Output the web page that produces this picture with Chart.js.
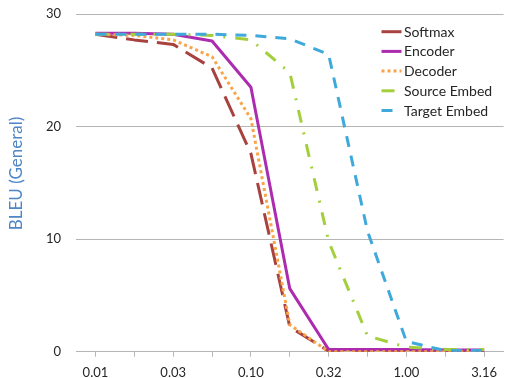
<!DOCTYPE html>
<html>
<head>
<meta charset="utf-8">
<title>BLEU (General)</title>
<script src="https://cdn.jsdelivr.net/npm/chart.js@4/dist/chart.umd.min.js"></script>
<style>
  html, body { margin: 0; padding: 0; background: #ffffff; }
  #wrap { position: relative; width: 505px; height: 378px; }
</style>
</head>
<body>
<div id="wrap"><canvas id="chart"></canvas></div>
<script>
// Noise levels on the x axis (half-decade labels, quarter-decade ticks)
const noiseLevels = [0.01, 0.0178, 0.0316, 0.0562, 0.1, 0.178, 0.316, 0.562, 1.0, 1.78, 3.16];
const xTickLabels = noiseLevels.map((v, i) => (i % 2 === 0 ? v.toFixed(2) : ''));
const yTicks = [0, 10, 20, 30];

// BLEU scores per perturbed component
const softmax     = [28.2, 27.7, 27.3, 25.2, 17.6, 2.2, 0.05, 0.05, 0.05, 0.05, 0.05];
const encoder     = [28.3, 28.3, 28.2, 27.6, 23.5, 5.6, 0.2, 0.2, 0.2, 0.15, 0.15];
const decoder     = [28.2, 28.1, 27.7, 26.2, 20.7, 2.4, 0.0, 0.0, 0.0, 0.0, 0.0];
const sourceEmbed = [28.2, 28.2, 28.2, 28.1, 27.7, 24.8, 9.8, 1.4, 0.4, 0.2, 0.2];
const targetEmbed = [28.2, 28.2, 28.2, 28.2, 28.1, 27.8, 26.4, 10.7, 0.9, 0.1, 0.1];

const seriesNames = ['Softmax', 'Encoder', 'Decoder', 'Source Embed', 'Target Embed'];
const seriesValues = [softmax, encoder, decoder, sourceEmbed, targetEmbed];
const seriesColors = ['#A8423E', '#AD2BAF', '#F9A448', '#A3CF3C', '#3FA9DB'];
const seriesDashes = [[22, 9], [], [3, 3], [13, 10, 2, 10], [11, 9]];

const FONT = 'Lato, "Open Sans", sans-serif';
const GRID = '#b5b5b5';

const datasets = seriesNames.map((name, i) => ({
  label: name,
  data: seriesValues[i],
  borderColor: seriesColors[i],
  backgroundColor: seriesColors[i],
  borderWidth: 3,
  borderDash: seriesDashes[i],
  borderCapStyle: 'butt',
  borderJoinStyle: 'round',
  pointRadius: 0,
  pointHoverRadius: 0,
  tension: 0,
  fill: false,
  order: seriesNames.length - i
}));

// Legend drawn inside the plot, top right
const insideLegend = {
  id: 'insideLegend',
  afterDraw(chart) {
    const ctx = chart.ctx;
    const x0 = 381.5, sampleW = 20, textX = 404, y0 = 31.7, rowH = 19.7;
    ctx.save();
    seriesNames.forEach((name, i) => {
      const y = y0 + i * rowH;
      ctx.beginPath();
      ctx.setLineDash(seriesDashes[i]);
      ctx.lineDashOffset = 0;
      ctx.lineWidth = 3;
      ctx.lineCap = 'butt';
      ctx.strokeStyle = seriesColors[i];
      ctx.moveTo(x0, y);
      ctx.lineTo(x0 + sampleW, y);
      ctx.stroke();
      ctx.setLineDash([]);
      ctx.fillStyle = '#262626';
      ctx.font = '14px ' + FONT;
      ctx.textAlign = 'left';
      ctx.textBaseline = 'middle';
      ctx.fillText(name, textX, y + 0.5);
    });
    ctx.restore();
  }
};

// Vertical axis title
const yTitle = {
  id: 'yTitle',
  afterDraw(chart) {
    const ctx = chart.ctx;
    ctx.save();
    ctx.translate(17, 173.5);
    ctx.rotate(-Math.PI / 2);
    ctx.fillStyle = '#4F86C6';
    ctx.font = '17px ' + FONT;
    ctx.textAlign = 'center';
    ctx.textBaseline = 'middle';
    ctx.fillText('BLEU (General)', 0, 0);
    ctx.restore();
  }
};

new Chart(document.getElementById('chart'), {
  type: 'line',
  data: { labels: xTickLabels, datasets },
  options: {
    responsive: true,
    maintainAspectRatio: false,
    devicePixelRatio: 1,
    animation: false,
    layout: { padding: { top: 14, right: 0, bottom: 0, left: 0 } },
    plugins: {
      legend: { display: false },
      tooltip: { enabled: false },
      title: { display: false }
    },
    scales: {
      x: {
        type: 'category',
        offset: true,
        afterFit(scale) { scale.height = 26.3; },
        border: { display: true, color: GRID, width: 1 },
        grid: {
          display: true,
          drawOnChartArea: false,
          drawTicks: true,
          tickLength: 5,
          color: GRID,
          offset: false
        },
        ticks: {
          autoSkip: false,
          maxRotation: 0,
          minRotation: 0,
          padding: 8,
          color: '#262626',
          font: { family: FONT, size: 13 },
          callback(value, index) { return xTickLabels[index]; }
        }
      },
      y: {
        min: yTicks[0],
        max: yTicks[yTicks.length - 1],
        afterFit(scale) { scale.width = 76; },
        afterBuildTicks(scale) { scale.ticks = yTicks.map(v => ({ value: v })); },
        border: { display: false },
        grid: {
          color: GRID,
          lineWidth: 1,
          drawTicks: true,
          tickLength: 15,
          tickColor: 'rgba(0,0,0,0)'
        },
        ticks: {
          padding: 0,
          color: '#262626',
          font: { family: FONT, size: 13 }
        },
        title: { display: false }
      }
    }
  },
  plugins: [insideLegend, yTitle]
});
</script>
</body>
</html>
